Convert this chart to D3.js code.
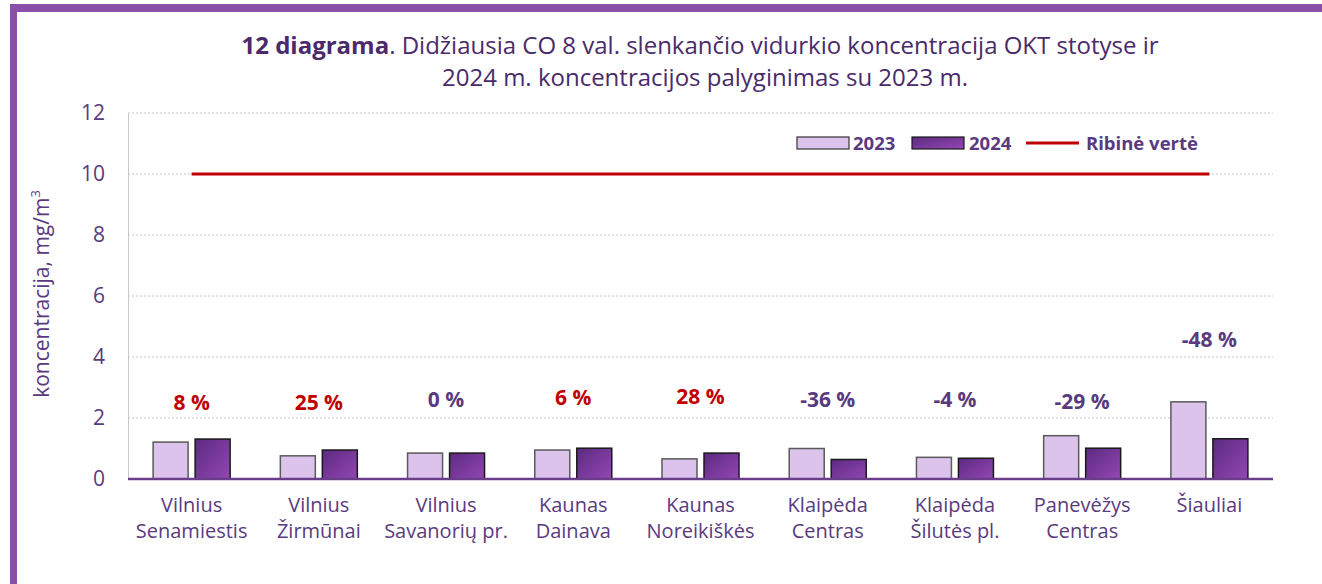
<!DOCTYPE html>
<html>
<head>
<meta charset="utf-8">
<script src="https://cdn.jsdelivr.net/npm/d3@7"></script>
<style>
  body { margin: 0; background: #fff; }
  svg { display: block; font-family: "Open Sans", "Noto Sans", sans-serif; }
</style>
</head>
<body>
<svg id="chart" width="1322" height="584"></svg>
<script>
// station names (two lines each)
const categories = [
  ["Vilnius", "Senamiestis"],
  ["Vilnius", "Žirmūnai"],
  ["Vilnius", "Savanorių pr."],
  ["Kaunas", "Dainava"],
  ["Kaunas", "Noreikiškės"],
  ["Klaipėda", "Centras"],
  ["Klaipėda", "Šilutės pl."],
  ["Panevėžys", "Centras"],
  ["Šiauliai", ""]
];
const values2023 = [1.21, 0.76, 0.85, 0.95, 0.66, 1.00, 0.71, 1.42, 2.53];
const values2024 = [1.31, 0.95, 0.85, 1.01, 0.85, 0.64, 0.68, 1.01, 1.32];
const changeLabels = ["8 %", "25 %", "0 %", "6 %", "28 %", "-36 %", "-4 %", "-29 %", "-48 %"];
const changePos = [2.49, 2.49, 2.59, 2.66, 2.69, 2.59, 2.59, 2.52, 4.56];
const limitValue = 10;
const yTicks = [0, 2, 4, 6, 8, 10, 12];

const PURPLE_TXT = "#5a3a7e";
const RED = "#c00000";

const margin = { top: 113, left: 128, right: 49, bottom: 105 };
const width = 1322, height = 584;
const chartW = width - margin.left - margin.right;
const chartH = height - margin.top - margin.bottom;

const svg = d3.select("#chart");

// gradient for 2024 bars
const defs = svg.append("defs");
const grad = defs.append("linearGradient")
  .attr("id", "g2024").attr("x1", "0%").attr("y1", "0%").attr("x2", "100%").attr("y2", "100%");
grad.append("stop").attr("offset", "0%").attr("stop-color", "#5b2a80");
grad.append("stop").attr("offset", "100%").attr("stop-color", "#9447b4");

// frame border
svg.append("rect").attr("x", 10).attr("y", 4).attr("width", width - 10).attr("height", 8).attr("fill", "#8a4fa8");
svg.append("rect").attr("x", 10).attr("y", 4).attr("width", 7).attr("height", height - 4).attr("fill", "#8a4fa8");

// title
const title = svg.append("text")
  .attr("x", 700).attr("y", 54)
  .attr("text-anchor", "middle")
  .style("font-size", "24px")
  .attr("fill", "#4a2a6a");
title.append("tspan").style("font-weight", "bold").text("12 diagrama");
title.append("tspan").text(". Didžiausia CO 8 val. slenkančio vidurkio koncentracija OKT stotyse ir");
svg.append("text")
  .attr("x", 705).attr("y", 86)
  .attr("text-anchor", "middle")
  .style("font-size", "24px")
  .attr("fill", "#4a2a6a")
  .text("2024 m. koncentracijos palyginimas su 2023 m.");

const g = svg.append("g").attr("transform", `translate(${margin.left},${margin.top})`);

const x0 = d3.scaleBand().domain(d3.range(categories.length)).range([0, chartW]);
const y = d3.scaleLinear().domain([0, 12]).range([chartH, 0]);

// gridlines
g.append("g")
  .selectAll("line")
  .data(yTicks.filter(t => t > 0))
  .join("line")
  .attr("x1", 0).attr("x2", chartW)
  .attr("y1", d => y(d)).attr("y2", d => y(d))
  .attr("stroke", "#c8c8c8")
  .attr("stroke-dasharray", "2,2");

// y axis
const yAxis = g.append("g")
  .call(d3.axisLeft(y).tickValues(yTicks).tickSize(0).tickPadding(23));
yAxis.select(".domain").attr("stroke", "#c8c8c8");
yAxis.selectAll("text")
  .style("font-size", "21px")
  .attr("fill", PURPLE_TXT)
  .style("font-family", "'Open Sans', sans-serif");

// y axis title
const yt = svg.append("text")
  .attr("transform", `translate(49,${margin.top + chartH / 2 - 2}) rotate(-90)`)
  .attr("text-anchor", "middle")
  .style("font-size", "21px")
  .attr("fill", PURPLE_TXT);
yt.append("tspan").text("koncentracija, mg/m");
yt.append("tspan").attr("dy", "-9").style("font-size", "13px").text("3");

const barW = 35, gap = 7;
const groups = g.selectAll(".grp")
  .data(categories.map((c, i) => i))
  .join("g")
  .attr("transform", i => `translate(${x0(i) + x0.bandwidth() / 2},0)`);

groups.append("rect")
  .attr("x", -barW - gap / 2)
  .attr("y", i => y(values2023[i]))
  .attr("width", barW)
  .attr("height", i => chartH - y(values2023[i]))
  .attr("fill", "#dcc3eb")
  .attr("stroke", "#5a5a5a")
  .attr("stroke-width", 1.5);

groups.append("rect")
  .attr("x", gap / 2)
  .attr("y", i => y(values2024[i]))
  .attr("width", barW)
  .attr("height", i => chartH - y(values2024[i]))
  .attr("fill", "url(#g2024)")
  .attr("stroke", "#1a1a1a")
  .attr("stroke-width", 1.5);

// change labels
groups.append("text")
  .attr("y", i => y(changePos[i]))
  .attr("dy", "0.35em")
  .attr("text-anchor", "middle")
  .style("font-size", "21px")
  .style("font-weight", "bold")
  .attr("fill", i => changeLabels[i].startsWith("-") || changeLabels[i] === "0 %" ? PURPLE_TXT : RED)
  .text(i => changeLabels[i]);

// limit line
g.append("line")
  .attr("x1", x0(0) + x0.bandwidth() / 2)
  .attr("x2", x0(categories.length - 1) + x0.bandwidth() / 2)
  .attr("y1", y(limitValue)).attr("y2", y(limitValue))
  .attr("stroke", RED)
  .attr("stroke-width", 3);

// x axis line
g.append("line")
  .attr("x1", 0).attr("x2", chartW)
  .attr("y1", chartH).attr("y2", chartH)
  .attr("stroke", "#6a3d8a")
  .attr("stroke-width", 2.5);

// category labels
groups.each(function(i) {
  const t = d3.select(this).append("text")
    .attr("text-anchor", "middle")
    .style("font-size", "20px")
    .attr("fill", PURPLE_TXT);
  t.append("tspan").attr("x", 0).attr("y", chartH + 33).text(categories[i][0]);
  t.append("tspan").attr("x", 0).attr("y", chartH + 59).text(categories[i][1]);
});

// legend
const legend = svg.append("g").style("font-size", "18.5px").style("font-weight", "bold").attr("fill", PURPLE_TXT);
legend.append("rect").attr("x", 797).attr("y", 137).attr("width", 52).attr("height", 12)
  .attr("fill", "#dcc3eb").attr("stroke", "#333").attr("stroke-width", 1.2);
legend.append("text").attr("x", 853).attr("y", 150).text("2023");
legend.append("rect").attr("x", 912).attr("y", 137).attr("width", 52).attr("height", 12)
  .attr("fill", "url(#g2024)").attr("stroke", "#1a1a1a").attr("stroke-width", 1.2);
legend.append("text").attr("x", 969).attr("y", 150).text("2024");
legend.append("line").attr("x1", 1026).attr("x2", 1079).attr("y1", 143).attr("y2", 143)
  .attr("stroke", RED).attr("stroke-width", 3);
legend.append("text").attr("x", 1086).attr("y", 150).text("Ribinė vertė");
</script>
</body>
</html>
